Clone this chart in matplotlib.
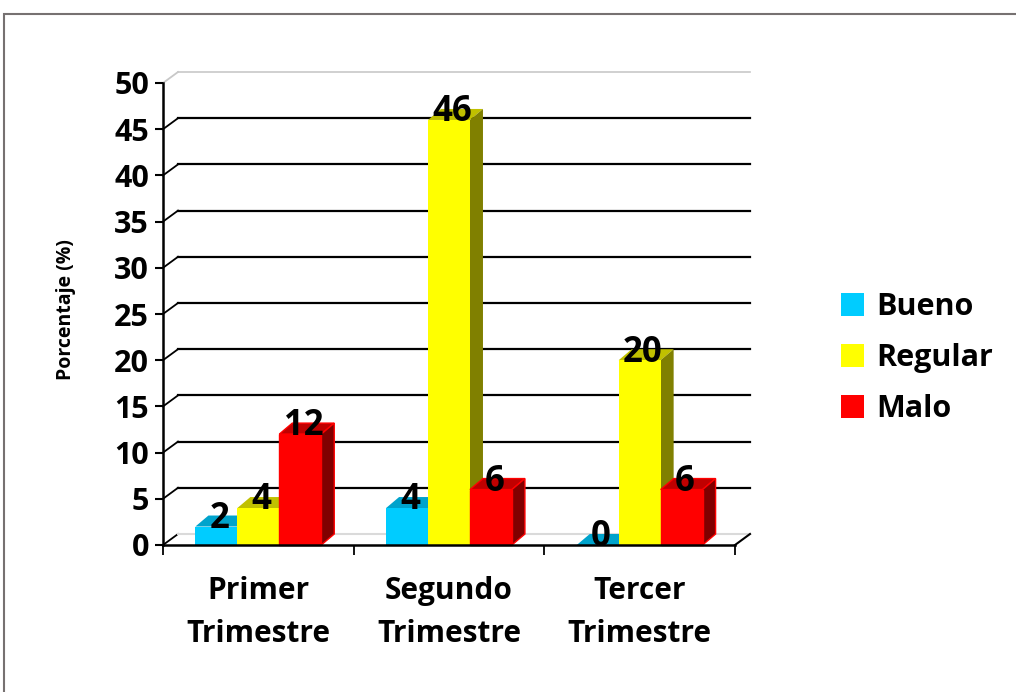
import matplotlib.pyplot as plt
from matplotlib.patches import Polygon, Rectangle

categories = ['Primer\nTrimestre', 'Segundo\nTrimestre', 'Tercer\nTrimestre']
series = ['Bueno', 'Regular', 'Malo']
bueno = [2, 4, 0]
regular = [4, 46, 20]
malo = [12, 6, 6]
yticks = [0, 5, 10, 15, 20, 25, 30, 35, 40, 45, 50]

# front, top, side colours for each series
colors = {
    'Bueno': ('#00CCFF', '#00A3CC', '#007A99'),
    'Regular': ('#FFFF00', '#C0C000', '#808000'),
    'Malo': ('#FF0000', '#C00000', '#800000'),
}
edge = {'Bueno': None, 'Regular': None, 'Malo': '#FF0000'}

plt.rcParams['font.family'] = ['Open Sans', 'DejaVu Sans']
plt.rcParams['font.weight'] = 'bold'

fig = plt.figure(figsize=(10.16, 6.92), dpi=100)
W, H = 1016, 692
ax = fig.add_axes([163 / W, (H - 545) / H, 572 / W, 462 / H])
ax.set_xlim(-0.5, 2.5)
ax.set_ylim(0, 50)

# pixel -> data conversion for the fake 3D depth
xpx = 572 / 3.0
ypx = 462 / 50.0
bdx, bdy = 13 / xpx, 11 / ypx      # bar depth
wdx, wdy = 15 / xpx, 11 / ypx      # wall depth

# back wall gridlines and slanted connectors
for t in yticks:
    col = 'black' if 0 < t < 50 else '#C8C8C8'
    lw = 1.6 if 0 < t < 50 else 1.2
    if t > 0:
        ax.plot([-0.5 + wdx, 2.5 + wdx], [t + wdy, t + wdy], color=col, lw=lw,
                clip_on=False, zorder=1)
    ax.plot([-0.5, -0.5 + wdx], [t, t + wdy], color=col if t > 0 else 'black', lw=1.3,
            clip_on=False, zorder=1)
ax.plot([-0.5 + wdx, 2.5 + wdx], [wdy, wdy], color='#DADADA', lw=1.5, clip_on=False, zorder=1)
# floor front edge and right slant
ax.plot([-0.5, 2.5], [0, 0], color='black', lw=1.8, clip_on=False, zorder=6)
ax.plot([2.5, 2.5 + wdx], [0, wdy], color='black', lw=1.5, clip_on=False, zorder=6)

width = 0.22
offsets = [-width, 0, width]
values = [bueno, regular, malo]
x = list(range(len(categories)))

for i in x:
    for s, name in enumerate(series):
        v = values[s][i]
        front, top, side = colors[name]
        x0 = i + offsets[s] - width / 2
        x1 = x0 + width
        ec = edge[name] or 'none'
        ax.add_patch(Polygon([(x0, v), (x1, v), (x1 + bdx, v + bdy), (x0 + bdx, v + bdy)],
                             closed=True, facecolor=top, edgecolor=ec, lw=1.0,
                             clip_on=False, zorder=3))
        ax.add_patch(Polygon([(x1, 0), (x1 + bdx, bdy), (x1 + bdx, v + bdy), (x1, v)],
                             closed=True, facecolor=side, edgecolor=ec, lw=1.0,
                             clip_on=False, zorder=3))
        ax.bar(i + offsets[s], v, width=width, color=front, edgecolor=ec, lw=1.0,
               zorder=3, clip_on=False)
        ax.text(i + offsets[s] + bdx * 0.25, v + bdy * 0.7, str(v), ha='center', va='center',
                fontsize=25, fontweight='bold', color='black', zorder=7)

# axes styling
for sp in ['top', 'right', 'bottom']:
    ax.spines[sp].set_visible(False)
ax.spines['left'].set_linewidth(1.8)
ax.spines['left'].set_zorder(6)
ax.set_yticks(yticks)
ax.tick_params(axis='y', length=6, width=1.5, labelsize=22, pad=4)
ax.set_xticks(x)
ax.set_xticklabels(categories, fontsize=21.5, linespacing=1.6)
ax.set_xticks([-0.5, 0.5, 1.5, 2.5], minor=True)
ax.tick_params(axis='x', which='major', length=0, pad=22)
ax.tick_params(axis='x', which='minor', length=7, width=1.3)
for lab in ax.get_yticklabels() + ax.get_xticklabels():
    lab.set_fontweight('bold')
ax.set_ylabel('Porcentaje (%)', fontsize=14, fontweight='bold')
ax.yaxis.set_label_coords(-0.152, 0.51)

# legend
handles = [Rectangle((0, 0), 1, 1, facecolor=colors[n][0]) for n in series]
leg = fig.legend(handles, series, loc='center left', bbox_to_anchor=(813 / W, 1 - 358 / H),
                 frameon=False, fontsize=22, handlelength=0.78, handleheight=0.78,
                 handletextpad=0.4, labelspacing=0.69)
for t in leg.get_texts():
    t.set_fontweight('bold')

# chart border
fig.patches.append(Rectangle((4 / W, -0.01), 1.02, 1 - 14 / H + 0.01, transform=fig.transFigure,
                             fill=False, edgecolor='#767171', lw=1.5))

fig.savefig('out.png', dpi=100)
